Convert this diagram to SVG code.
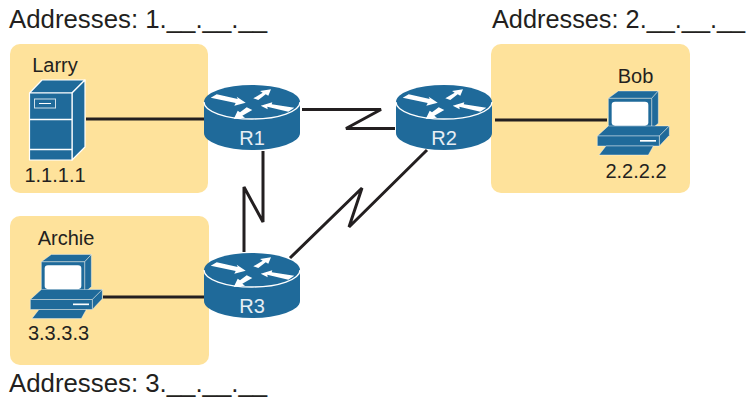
<svg xmlns="http://www.w3.org/2000/svg" width="747" height="398" viewBox="0 0 747 398">
<style>
text{font-family:"Liberation Sans",Arial,sans-serif;fill:#231f20}
.addr{font-size:25.800px}
.addr2{font-size:25.300px}
.lbl{font-size:20px;text-anchor:middle}
.rname{font-size:20px;text-anchor:middle;fill:#e6eef4}
.panel{fill:#fee29b}
.link{fill:none;stroke:#231f20;stroke-width:3;stroke-linejoin:miter}
.blue{fill:#1f6a9a;stroke:#fff;stroke-width:1.2;stroke-linejoin:round}
.rbody{fill:#1f6a9a}
.w{fill:#fff}
</style>
<defs>
<g id="router">
<path class="rbody" d="M-48 0V31A48 17 0 0 0 48 31V0Z"/>
<path class="rbody" d="M-48 0A48 17 0 0 1 48 0Z"/>
<path d="M-48 0A48 17 0 0 0 48 0" fill="none" stroke="#fff" stroke-width="1.300"/>
<path class="w" d="M-41.300 -4.300L-35.300 -7.700L-14.300 -3L-15.300 -5.300L-6.300 .7L-17.700 3.700L-16.300 1Z"/>
<path class="w" d="M42.300 5.700L36.300 9.700L15.300 4.700L15.700 7.300L8.700 3.700L20.300 .3L19.700 2.300Z"/>
<path class="w" d="M1.300 -3.700L6.300 -2L13.700 -7.700L16.300 -6.300L19 -12.700L8 -11L10.700 -9.300Z"/>
<path class="w" d="M.3 8L-5.300 5.300L-12 10.300L-14.300 8.700L-18.300 17L-7 15.700L-9.700 13.700Z"/>
</g>
<g id="pc">
<path class="blue" d="M55 115L85 93H205L185 115Z"/>
<path class="blue" d="M205 93V190L185 207V115Z"/>
<rect class="blue" x="55" y="115" width="130" height="92"/>
<rect class="w" x="65" y="125" width="110" height="72" rx="10"/>
<path class="blue" d="M22 228L55 198H238L208 228Z"/>
<path class="blue" d="M238 198V226L208 258V228Z"/>
<rect class="blue" x="22" y="228" width="186" height="30"/>
<rect class="w" x="150" y="240" width="48" height="5"/>
<path class="blue" d="M27 285L48 258H190L175 285Z"/>
</g>
</defs>
<rect class="panel" x="10" y="44" width="198" height="149" rx="10"/>
<rect class="panel" x="491" y="44" width="199" height="149" rx="10"/>
<rect class="panel" x="10" y="216" width="199" height="149" rx="10"/>
<g id="connectors">
<path class="link" d="M86 119H204"/>
<path class="link" d="M302 109.500H381L346 128.500H395"/>
<path class="link" d="M263 151V222L244 187V252"/>
<path class="link" d="M427 150L349 227L362 188L290 258"/>
<path class="link" d="M495 120H607"/>
<path class="link" d="M103 297H204"/>
</g>
<g id="larry">
<text class="lbl" x="55" y="72">Larry</text>
<path class="blue" d="M29.500 93L42 80H85L72 93Z"/>
<path class="blue" d="M85 80V147L72 160V93Z"/>
<rect class="blue" x="29.500" y="93" width="42.500" height="67"/>
<path d="M29.500 119.500H72M29.500 149.500H72" stroke="#fff" stroke-width="1.500" fill="none"/>
<rect x="34.500" y="99" width="21" height="9" fill="none" stroke="#cfe0ea" stroke-width="1"/>
<path d="M39 103.500H51" stroke="#fff" stroke-width="1"/>
<text class="lbl" x="55" y="182">1.1.1.1</text>
</g>
<g id="r1"><use href="#router" x="252" y="102"/><text class="rname" x="252" y="145">R1</text></g>
<g id="r2"><use href="#router" x="444" y="102"/><text class="rname" x="444" y="145">R2</text></g>
<g id="r3"><use href="#router" x="252" y="270"/><text class="rname" x="252" y="313">R3</text></g>
<g id="bob">
<text class="lbl" x="635.500" y="83">Bob</text>
<g transform="translate(590 60) scale(.33333)"><use href="#pc"/></g>
<text class="lbl" x="636" y="178">2.2.2.2</text>
</g>
<g id="archie">
<text class="lbl" x="66" y="245">Archie</text>
<g transform="translate(23 223.500) scale(.33333)"><use href="#pc"/></g>
<text class="lbl" x="58.500" y="340">3.3.3.3</text>
</g>
<g id="addresses">
<text class="addr" x="9" y="28">Addresses: 1.__.__.__</text>
<text class="addr2" x="492" y="28">Addresses: 2.__.__.__</text>
<text class="addr" x="9" y="392">Addresses: 3.__.__.__</text>
</g>
</svg>
